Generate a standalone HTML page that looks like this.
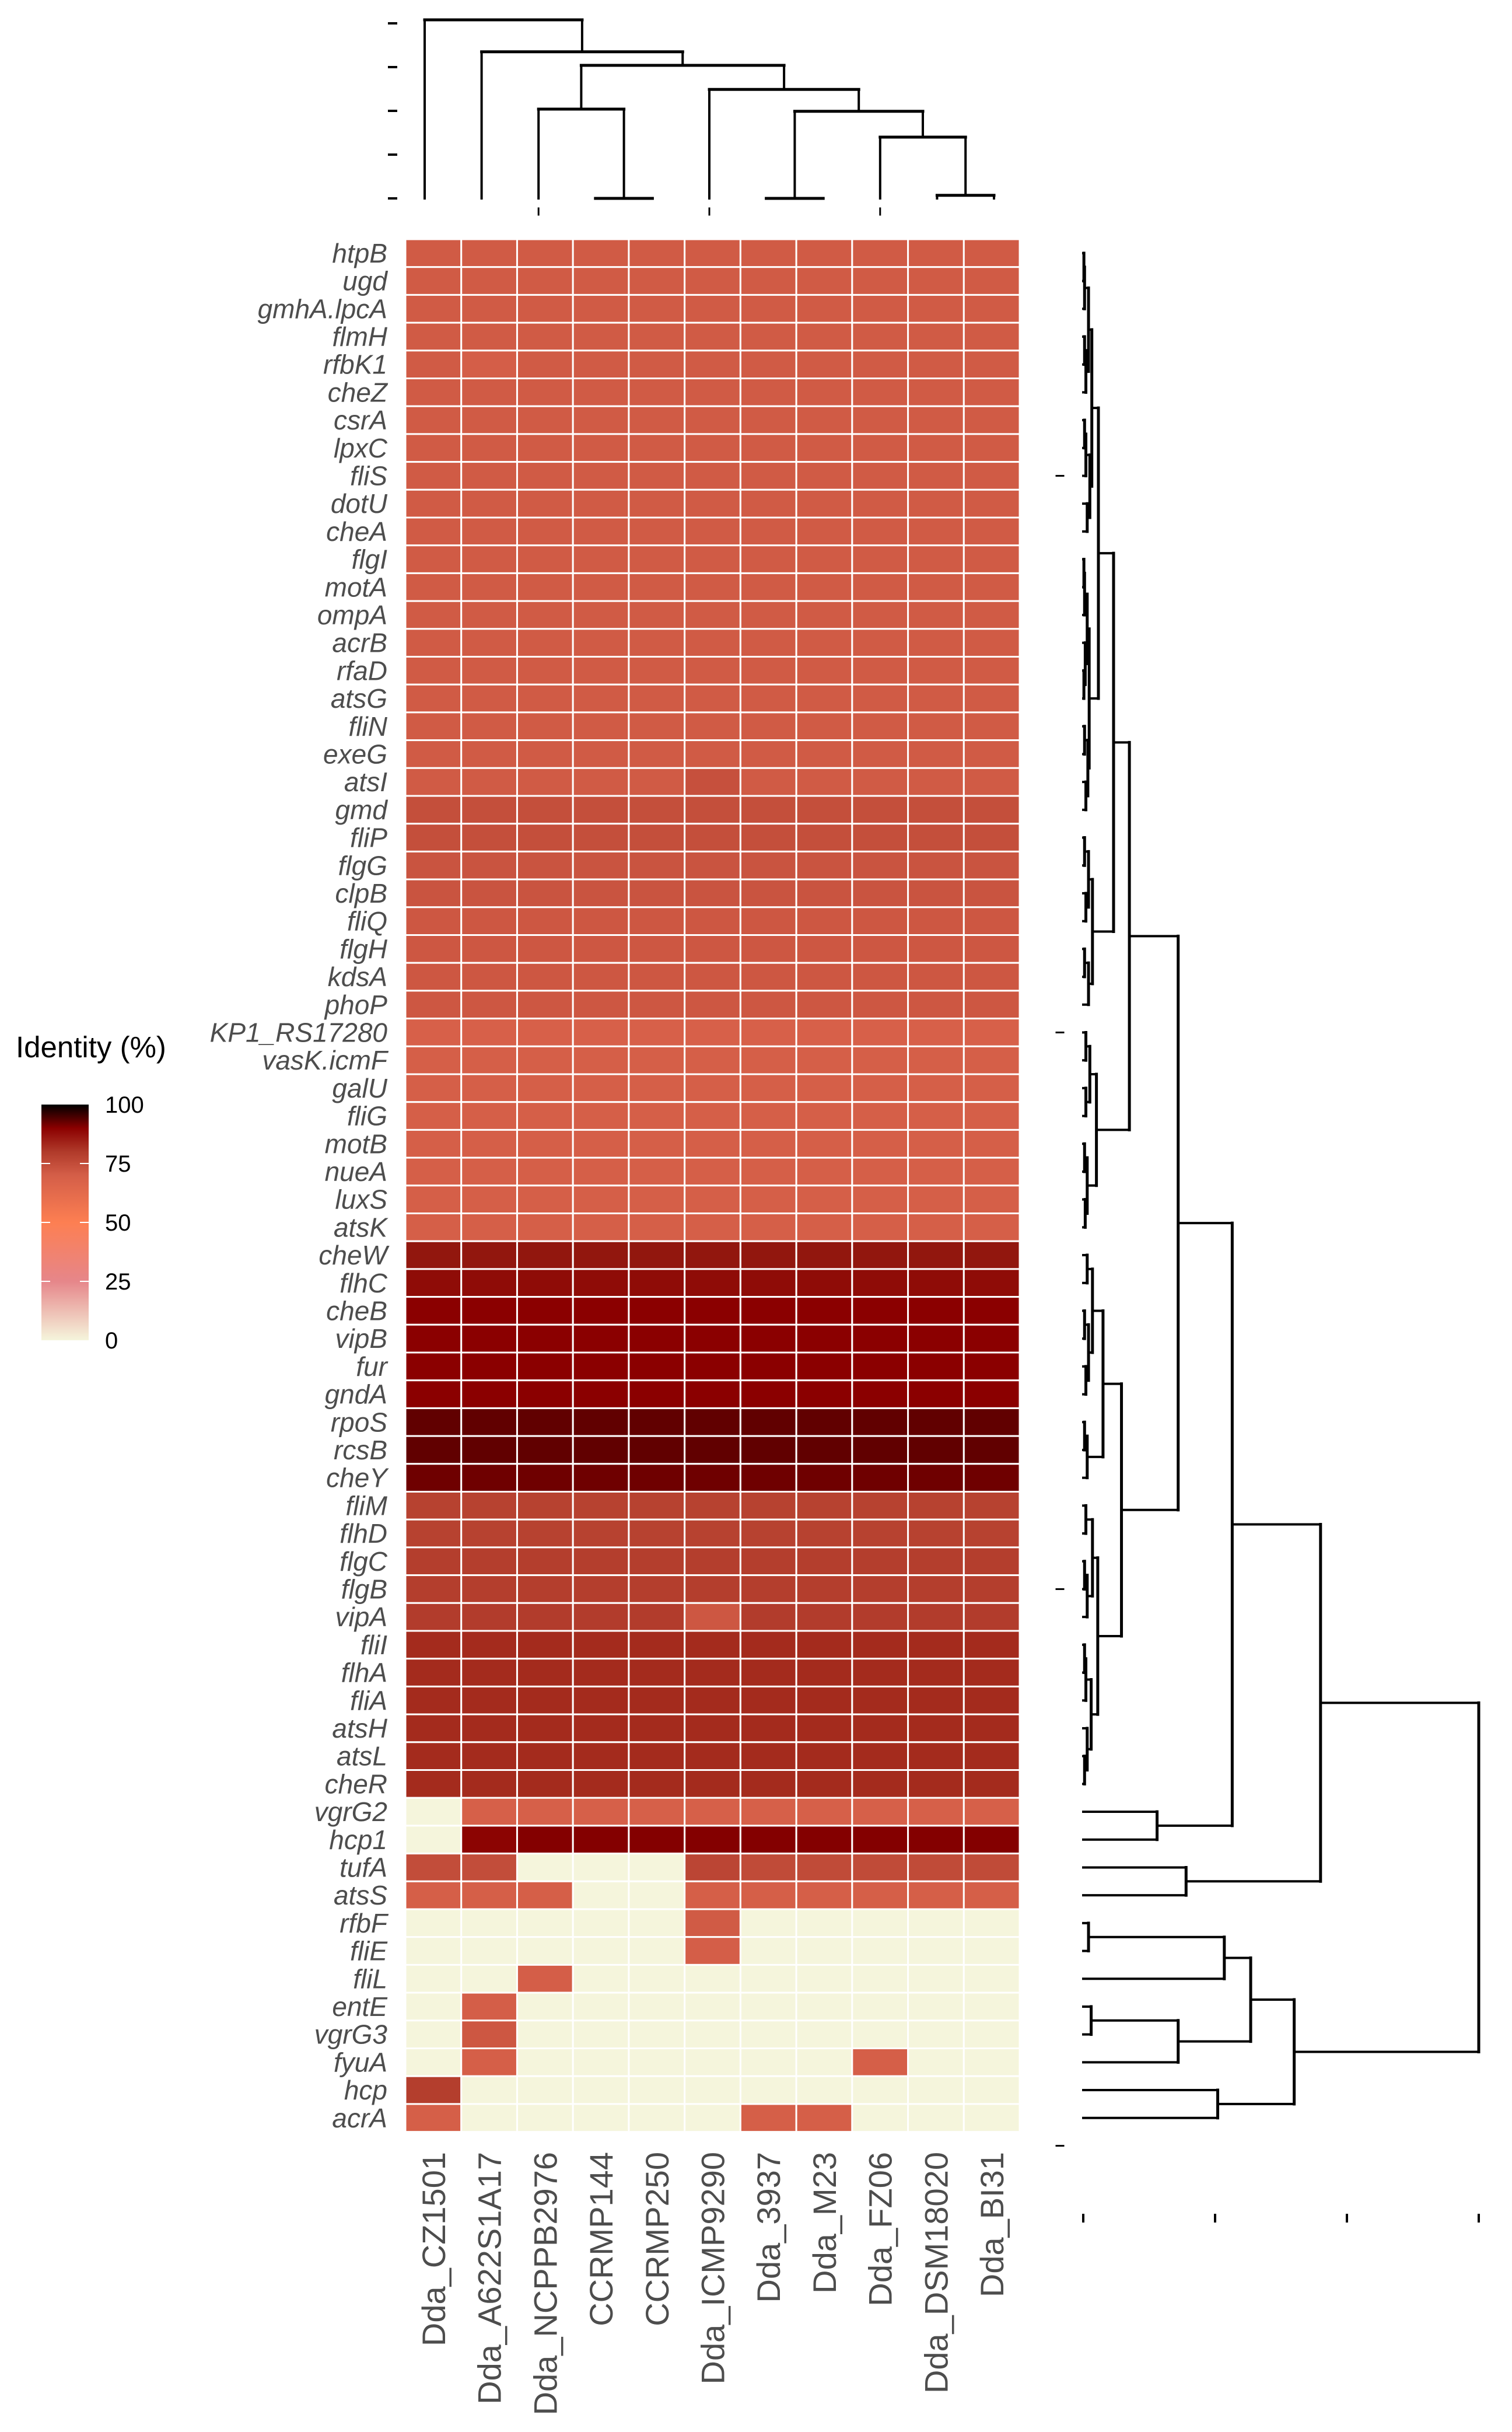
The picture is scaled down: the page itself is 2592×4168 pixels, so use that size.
<!DOCTYPE html>
<html><head><meta charset="utf-8"><title>Identity heatmap</title>
<style>
html,body{margin:0;padding:0;background:#fff;}
svg{display:block;}
.rl{font-family:"Liberation Sans",sans-serif;font-style:italic;font-size:46px;fill:#4d4d4d;}
.cl{font-family:"Liberation Sans",sans-serif;font-size:56px;fill:#4d4d4d;}
.lg{font-family:"Liberation Sans",sans-serif;fill:#000;}
</style></head>
<body>
<svg id="chart" width="2592" height="4168" viewBox="0 0 2592 4168" xmlns="http://www.w3.org/2000/svg">
<defs>
<linearGradient id="lgGrad" x1="0" y1="1" x2="0" y2="0">
<stop offset="0" stop-color="#f5f5dc"/>
<stop offset="0.25" stop-color="#e6868a"/>
<stop offset="0.5" stop-color="#fd7f52"/>
<stop offset="0.7" stop-color="#d45e48"/>
<stop offset="0.8" stop-color="#b03a2a"/>
<stop offset="0.9" stop-color="#8b0000"/>
<stop offset="1" stop-color="#000000"/>
</linearGradient>
</defs>
<g id="heat"></g>
<g id="rowLabels"></g>
<g id="colLabels"></g>
<g id="topDendro"></g>
<g id="rightDendro"></g>
<g id="legend">
<text class="lg" x="27" y="1812" font-size="51">Identity (%)</text>
<rect x="71" y="1893" width="81" height="404" fill="url(#lgGrad)"/>
</g>
</svg>
<script>
const genes = ["htpB","ugd","gmhA.lpcA","flmH","rfbK1","cheZ","csrA","lpxC","fliS","dotU","cheA","flgI","motA","ompA","acrB","rfaD","atsG","fliN","exeG","atsI","gmd","fliP","flgG","clpB","fliQ","flgH","kdsA","phoP","KP1_RS17280","vasK.icmF","galU","fliG","motB","nueA","luxS","atsK","cheW","flhC","cheB","vipB","fur","gndA","rpoS","rcsB","cheY","fliM","flhD","flgC","flgB","vipA","fliI","flhA","fliA","atsH","atsL","cheR","vgrG2","hcp1","tufA","atsS","rfbF","fliE","fliL","entE","vgrG3","fyuA","hcp","acrA"];
const strains = ["Dda_CZ1501","Dda_A622S1A17","Dda_NCPPB2976","CCRMP144","CCRMP250","Dda_ICMP9290","Dda_3937","Dda_M23","Dda_FZ06","Dda_DSM18020","Dda_BI31"];
const rowDefault = [71,71,71,71,71,71,71,71,71,71,71,71,71,71,71,71,71,71,71,71,74.5,74.5,73,73,72,72,72,72,68.5,69.5,69.5,69.5,69.5,69.5,69.5,69.5,87,88.5,90,90,90,90,93,93,92,78,78,79,79,79.5,83,83,83,83,83,83,69,90.5,75.5,69.5,0,0,0,0,0,0,0,0];
const exceptions = [[4,1,70],[19,5,74],[49,5,72],[56,0,0],[57,0,0],[57,1,89.5],[58,0,75],[58,1,75],[58,2,0],[58,3,0],[58,4,0],[58,5,77],[59,3,0],[59,4,0],[60,5,71],[61,5,70],[62,2,70],[63,1,70],[64,1,72],[65,1,69.5],[65,8,69.5],[66,0,79],[67,0,69.5],[67,6,69.5],[67,7,69.5]];
const scaleVals = [0,25,50,70,75,80,84,87,90,100];
const scaleCols = ["#f5f5dc","#e6868a","#fd7f52","#d45e48","#c24d3a","#b03a2a","#a02618","#92170e","#8b0000","#000000"];
const legendTicks = [0,25,50,75,100];
const topTree = [4.08,0,[3.35,1,[3.04,[2.04,2,[0,3,4]],[2.49,5,[1.99,[0,6,7],[1.40,8,[0.07,9,10]]]]]]];
const topHeightTicks = [0,1,2,3,4];
const topLeafTicks = [2,5,8];
const rightTree = [3.0,
 [1.80,
  [1.13,
   [0.72,
    [0.35,
     [0.23,
      [0.115,
       [0.065,[0.04,[0.01,[0.005,0,1],2],[0.02,[0.01,3,4],5]],[0.05,[0.02,[0.01,6,7],8],[0.03,9,10]]],
       [0.045,[0.03,[0.01,[0.005,11,12],13],[0.015,14,[0.005,15,16]]],[0.035,[0.01,17,18],[0.02,19,20]]]],
      [0.07,[0.04,[0.01,21,22],[0.02,23,24]],[0.04,[0.01,25,26],27]]],
     [0.10,[0.05,[0.02,28,29],[0.02,30,31]],[0.03,[0.01,32,33],[0.015,34,35]]]],
    [0.29,
     [0.15,[0.07,[0.03,36,37],[0.04,[0.01,38,39],[0.02,40,41]]],[0.03,[0.01,42,43],44]],
     [0.11,[0.07,[0.02,45,46],[0.03,[0.01,47,48],49]],[0.06,[0.02,[0.01,50,51],52],[0.03,53,[0.01,54,55]]]]]],
   [0.56,56,57]],
  [0.78,58,59]],
 [1.60,[1.27,[1.07,[0.04,60,61],62],[0.72,[0.06,63,64],65]],[1.02,66,67]]];
const rightHeightTicks = [0,1,2,3];
const rightLeafTicks = [8,28,48,68];

const NS="http://www.w3.org/2000/svg";
const X0=695, CW=95.73, Y0=410, RH=47.7;
function colX(i){return X0+CW*i;}
function rowY(r){return Y0+RH*r;}
function mk(tag,attrs,parent){const e=document.createElementNS(NS,tag);for(const k in attrs)e.setAttribute(k,attrs[k]);parent.appendChild(e);return e;}
function hex2rgb(h){return [parseInt(h.slice(1,3),16),parseInt(h.slice(3,5),16),parseInt(h.slice(5,7),16)];}
function colorFor(v){
  for(let i=1;i<scaleVals.length;i++){
    if(v<=scaleVals[i]){const t=(v-scaleVals[i-1])/(scaleVals[i]-scaleVals[i-1]);
      const a=hex2rgb(scaleCols[i-1]),b=hex2rgb(scaleCols[i]);
      return "rgb("+a.map((c,k)=>Math.round(c+(b[k]-c)*t)).join(",")+")";}
  }
  return scaleCols[scaleCols.length-1];
}
function cellValue(r,c){let v=rowDefault[r];for(const e of exceptions){if(e[0]===r&&e[1]===c)v=e[2];}return v;}

const heat=document.getElementById('heat');
genes.forEach((g,r)=>{
  strains.forEach((s,c)=>{
    const rc=mk('rect',{x:colX(c),y:rowY(r),width:CW,height:RH,fill:colorFor(cellValue(r,c)),stroke:'#ffffff','stroke-width':3},heat);
    
    
  });
});
const rl=document.getElementById('rowLabels');
genes.forEach((g,r)=>{
  const t=mk('text',{class:'rl',x:664,y:rowY(r)+RH/2+16,'text-anchor':'end'},rl);
  t.textContent=g;
  
  
});
const cl=document.getElementById('colLabels');
strains.forEach((s,c)=>{
  const cx=colX(c)+CW/2+20, y=3688;
  const t=mk('text',{class:'cl',x:cx,y:y,'text-anchor':'end',transform:'rotate(-90 '+cx+' '+y+')'},cl);
  t.textContent=s;
  
  
});

// top dendrogram
const td=document.getElementById('topDendro');
function tLeafX(i){return 728+97.6*i;}
function tH(h){return 340-75*h;}
function line(g,x1,y1,x2,y2,name,w){const l=mk('line',{x1:x1,y1:y1,x2:x2,y2:y2,stroke:'#000','stroke-width':w,'stroke-linecap':'square'},g);return l;}
function drawTop(n){
  if(typeof n==='number')return {p:tLeafX(n),h:0};
  const a=drawTop(n[1]),b=drawTop(n[2]);
  line(td,a.p,tH(n[0]),b.p,tH(n[0]),'strain-dendro-branch',5);
  line(td,a.p,tH(a.h),a.p,tH(n[0]),'strain-dendro-branch',4);
  line(td,b.p,tH(b.h),b.p,tH(n[0]),'strain-dendro-branch',4);
  return {p:(a.p+b.p)/2,h:n[0]};
}
drawTop(topTree);
topHeightTicks.forEach(v=>{line(td,667,tH(v),679,tH(v),'strain-dendro-height-tick',4);});
topLeafTicks.forEach(i=>{line(td,tLeafX(i),357,tLeafX(i),368,'strain-dendro-leaf-tick',3);});

// right dendrogram
const rd=document.getElementById('rightDendro');
function rLeafY(r){return Y0+RH*(r+0.5);}
function rH(h){return 1857+226*h;}
function drawRight(n){
  if(typeof n==='number')return {p:rLeafY(n),h:0};
  const a=drawRight(n[1]),b=drawRight(n[2]);
  line(rd,rH(n[0]),a.p,rH(n[0]),b.p,'gene-dendro-branch',5);
  line(rd,rH(a.h),a.p,rH(n[0]),a.p,'gene-dendro-branch',4);
  line(rd,rH(b.h),b.p,rH(n[0]),b.p,'gene-dendro-branch',4);
  return {p:(a.p+b.p)/2,h:n[0]};
}
drawRight(rightTree);
rightHeightTicks.forEach(v=>{line(rd,rH(v),3796,rH(v),3807,'gene-dendro-height-tick',4);});
rightLeafTicks.forEach(r=>{line(rd,1811,rLeafY(r)-RH/2+RH/2,1823,rLeafY(r),'gene-dendro-leaf-tick',3);});

// legend
const lg=document.getElementById('legend');
function legY(v){return 2297-4.04*v;}
legendTicks.forEach(v=>{
  if(v>0&&v<100){
    line(lg,71,legY(v),85,legY(v),'legend-tick',2).setAttribute('stroke','#ffffff');
    line(lg,138,legY(v),152,legY(v),'legend-tick',2).setAttribute('stroke','#ffffff');
  }
  const t=mk('text',{class:'lg',x:180,y:legY(v)+14,'font-size':40},lg);
  t.textContent=String(v);
  
  
});
</script>
</body></html>
